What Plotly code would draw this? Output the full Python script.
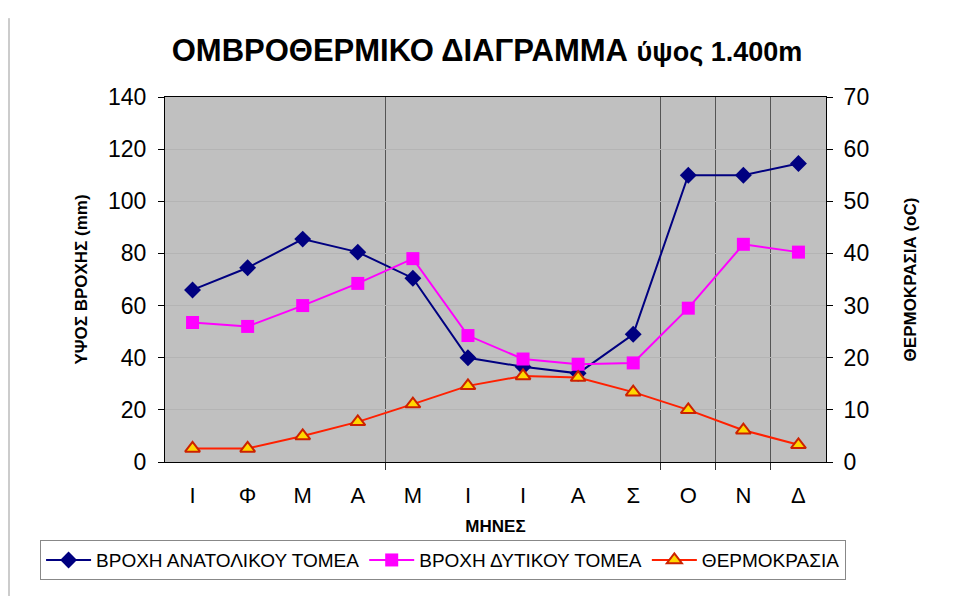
import plotly.graph_objects as go

months = ["Ι", "Φ", "Μ", "Α", "Μ", "Ι", "Ι", "Α", "Σ", "Ο", "Ν", "Δ"]
rain_east = [66, 74.5, 85.5, 80.5, 70.5, 40, 36.5, 34, 49, 110, 110, 114.5]
rain_west = [53.5, 52, 60, 68.5, 78, 48.5, 39.5, 37.5, 38, 59, 83.5, 80.5]
temperature = [2.6, 2.6, 5, 7.7, 11.1, 14.6, 16.5, 16.2, 13.4, 10, 6.1, 3.3]

x = list(range(len(months)))
font_main = "Liberation Sans, Arial, sans-serif"

fig = go.Figure()
fig.add_trace(go.Scatter(x=x, y=rain_east, name="ΒΡΟΧΗ ΑΝΑΤΟΛΙΚΟΥ ΤΟΜΕΑ",
                         mode="lines+markers",
                         line=dict(color="#000080", width=2),
                         marker=dict(symbol="diamond", size=13, color="#000080")))
fig.add_trace(go.Scatter(x=x, y=rain_west, name="ΒΡΟΧΗ ΔΥΤΙΚΟΥ ΤΟΜΕΑ",
                         mode="lines+markers",
                         line=dict(color="#FF00FF", width=2),
                         marker=dict(symbol="square", size=13, color="#FF00FF")))
fig.add_trace(go.Scatter(x=x, y=temperature, name="ΘΕΡΜΟΚΡΑΣΙΑ", yaxis="y2",
                         mode="lines+markers",
                         line=dict(color="#FF2000", width=2),
                         marker=dict(symbol="triangle-up", size=13, color="#FFD700",
                                     line=dict(color="#CC2200", width=2))))

# page body has an 8px margin, so the figure is a bit smaller than the window
fig.update_layout(
    width=958, height=588,
    margin=dict(l=157, r=140, t=89, b=134),
    paper_bgcolor="white",
    plot_bgcolor="#C0C0C0",
    font=dict(family=font_main, color="black"),
    title=dict(text="<b>ΟΜΒΡΟΘΕΡΜΙΚΟ ΔΙΑΓΡΑΜΜΑ</b> <span style='font-size:27px'><b>ύψος 1.400m</b></span>",
               x=0.5, xanchor="center", y=0.929, yanchor="middle",
               font=dict(size=31, family=font_main)),
    xaxis=dict(range=[-0.5, 11.5], tickmode="array", tickvals=x, ticktext=months,
               ticks="outside", ticklen=14, tickcolor="rgba(0,0,0,0)",
               tickfont=dict(size=22), showgrid=False, zeroline=False,
               showline=True, linecolor="black", linewidth=1, mirror=True,
               minor=dict(tickmode="array", tickvals=[3.5, 8.5, 9.5, 10.5],
                          ticks="outside", ticklen=7, tickcolor="#333",
                          showgrid=True, gridcolor="#555", gridwidth=1),
               title=dict(text="<b>ΜΗΝΕΣ</b>", font=dict(size=17), standoff=12)),
    yaxis=dict(range=[0, 140], dtick=20, ticks="outside", ticklen=6, tickcolor="black",
               tickfont=dict(size=23), showline=True, linecolor="black", linewidth=1,
               showgrid=True, gridcolor="#b4b4b4", gridwidth=1, zeroline=False,
               ticklabelstandoff=7,
               title=dict(text="<b>ΥΨΟΣ ΒΡΟΧΗΣ (mm)</b>", font=dict(size=17), standoff=16)),
    yaxis2=dict(range=[0, 70], dtick=10, overlaying="y", side="right",
                ticks="outside", ticklen=6, tickcolor="black",
                tickfont=dict(size=23), showline=True, linecolor="black", linewidth=1,
                showgrid=False, zeroline=False, ticklabelstandoff=6,
                title=dict(text="<b>ΘΕΡΜΟΚΡΑΣΙΑ (oC)</b>", font=dict(size=17), standoff=35)),
    legend=dict(orientation="h", x=-0.189, xanchor="left", y=-0.214, yanchor="top",
                font=dict(size=19), bordercolor="#888", borderwidth=1,
                itemwidth=45, bgcolor="white", tracegroupgap=0),
    shapes=[dict(type="line", xref="paper", yref="paper", x0=-0.236, x1=-0.236,
                 y0=1.216, y1=-0.367, line=dict(color="#999", width=1))],
)

fig.write_html("out.html")
